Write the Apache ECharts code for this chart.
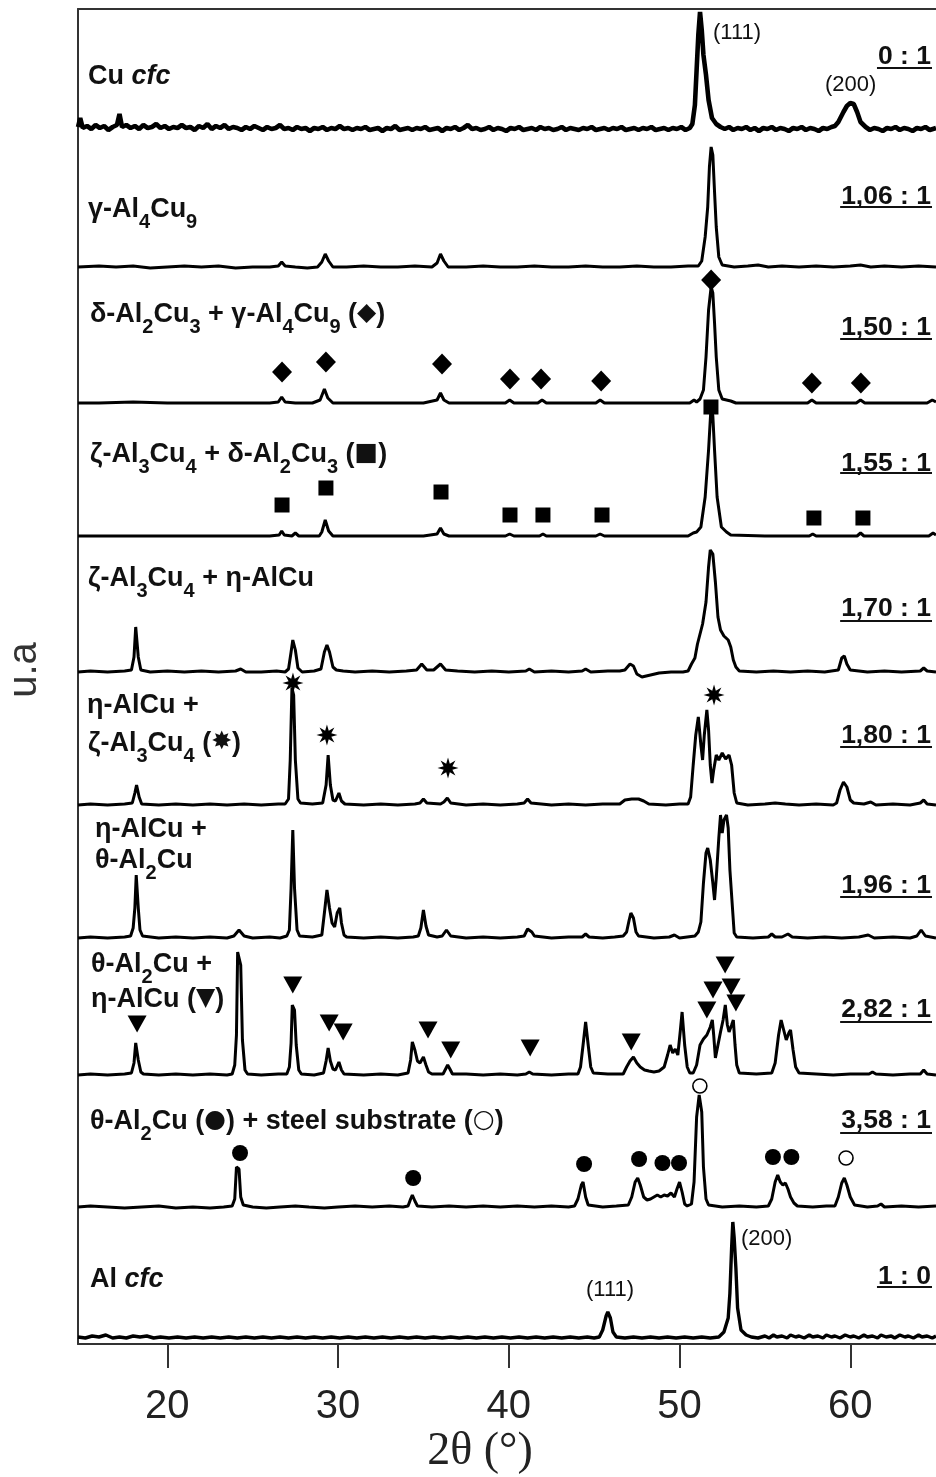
<!DOCTYPE html>
<html><head><meta charset="utf-8">
<script src="https://cdn.jsdelivr.net/npm/echarts@6/dist/echarts.min.js"></script>
<style>html,body{margin:0;padding:0;background:#fff}#c{width:936px;height:1477px}</style>
</head><body><div id="c"></div>
<script>
// ---------------- DATA ----------------
const xTicks = [20, 30, 40, 50, 60];
const xRange = [14.77, 65.02];
// vertical stacking offset of each pattern (a.u.)
const offsets = [1214, 1077, 941, 808, 672, 539, 406, 269, 137, 6];

const traceCu = [[14.77,3],[14.9,12],[15.05,2],[15.3,4],[15.55,1],[15.8,5],[16.05,2],[16.3,4],[16.55,0],[16.8,3],[17.05,5],[17.2,16],[17.35,3],[17.6,5],[17.85,2],[18.1,4],[18.35,1],[18.6,5],[18.85,2],[19.1,3],[19.35,6],[19.6,2],[19.85,4],[20.1,1],[20.35,3],[20.6,2],[20.85,5],[21.1,2],[21.35,3],[21.6,0],[21.85,4],[22.1,2],[22.35,6],[22.6,1],[22.85,4],[23.1,2],[23.35,5],[23.6,1],[23.85,3],[24.1,2],[24.35,0],[24.6,3],[24.85,1],[25.1,4],[25.35,2],[25.6,0],[25.85,3],[26.1,1],[26.35,2],[26.6,5],[26.85,1],[27.1,2],[27.35,0],[27.6,3],[27.85,1],[28.1,2],[28.35,-1],[28.6,2],[28.85,1],[29.1,3],[29.35,0],[29.6,2],[29.85,1],[30.1,4],[30.35,1],[30.6,2],[30.85,0],[31.1,2],[31.35,1],[31.6,3],[31.85,0],[32.1,1],[32.35,2],[32.6,-1],[32.85,2],[33.1,1],[33.35,4],[33.6,0],[33.85,1],[34.1,2],[34.35,0],[34.6,2],[34.85,1],[35.1,3],[35.35,0],[35.6,1],[35.85,2],[36.1,-1],[36.35,2],[36.6,1],[36.85,3],[37.1,0],[37.35,2],[37.6,5],[37.85,1],[38.1,2],[38.35,0],[38.6,1],[38.85,3],[39.1,0],[39.35,2],[39.6,1],[39.85,-1],[40.1,2],[40.35,1],[40.6,3],[40.85,0],[41.1,1],[41.35,2],[41.6,0],[41.85,3],[42.1,1],[42.35,2],[42.6,0],[42.85,1],[43.1,3],[43.35,0],[43.6,2],[43.85,1],[44.1,0],[44.35,2],[44.6,1],[44.85,3],[45.1,0],[45.35,1],[45.6,2],[45.85,0],[46.1,2],[46.35,1],[46.6,3],[46.85,0],[47.1,1],[47.35,2],[47.6,0],[47.85,2],[48.1,1],[48.35,3],[48.6,0],[48.85,1],[49.1,2],[49.35,0],[49.6,2],[49.85,1],[50.1,3],[50.35,0],[50.6,2],[50.75,6],[50.9,25],[51.0,60],[51.1,95],[51.2,118],[51.3,100],[51.4,75],[51.55,55],[51.7,30],[51.9,12],[52.15,6],[52.4,3],[52.65,1],[52.9,3],[53.15,0],[53.4,2],[53.65,1],[53.9,3],[54.15,0],[54.4,2],[54.65,-1],[54.9,2],[55.15,1],[55.4,3],[55.65,0],[55.9,2],[56.15,1],[56.4,-1],[56.65,2],[56.9,1],[57.15,3],[57.4,0],[57.65,2],[57.9,1],[58.15,-1],[58.4,2],[58.65,1],[58.9,3],[59.1,4],[59.3,8],[59.6,18],[59.8,24],[60.0,27],[60.2,26],[60.4,18],[60.6,8],[60.9,3],[61.15,0],[61.4,2],[61.65,1],[61.9,-1],[62.15,2],[62.4,1],[62.65,3],[62.9,0],[63.15,2],[63.4,1],[63.65,-1],[63.9,2],[64.15,1],[64.4,3],[64.65,0],[65.02,2]];

const traceGamma = [[14.77,0],[16,1],[17,0],[18,1],[19,-1],[20,0],[21,1],[22,0],[23,1],[24,-1],[25,0],[26,0],[26.5,1],[26.7,5],[26.9,1],[27.5,0],[28.2,-1],[28.8,0],[29.05,5],[29.25,13],[29.45,6],[29.7,0],[30.5,0],[31.5,1],[32.5,0],[33.5,0],[34.5,1],[35.5,0],[35.8,4],[36.0,13],[36.2,6],[36.45,0],[37.5,0],[38.5,1],[39.5,0],[40.5,0],[41.5,1],[42.5,0],[43.5,0],[44.5,1],[45.5,0],[46.5,0],[47.5,1],[48.5,0],[49.5,0],[50.5,1],[51.1,1],[51.3,6],[51.5,30],[51.65,60],[51.75,100],[51.85,120],[51.95,112],[52.05,75],[52.15,40],[52.3,10],[52.5,2],[53.2,0],[54.0,1],[54.6,2],[55.2,0],[56,1],[57,0],[58,1],[59,0],[60,1],[60.6,2],[61.2,0],[62,1],[63,0],[64,1],[65.02,0]];

const traceDeltaGamma = [[14.77,0],[16,0],[18,1],[20,0],[22,0],[24,0],[26.0,0],[26.5,1],[26.7,6],[26.9,1],[27.5,0],[28.5,0],[28.95,3],[29.2,14],[29.4,5],[29.7,0],[31,0],[33,0],[35,0],[35.8,3],[36.0,10],[36.2,3],[36.5,0],[38,0],[39.8,0],[40.05,3],[40.3,0],[41.7,0],[41.95,3],[42.2,0],[45.1,0],[45.35,3],[45.6,0],[48,0],[50.6,0],[50.85,3],[51.0,1],[51.2,4],[51.4,13],[51.55,46],[51.7,93],[51.85,116],[51.95,110],[52.05,80],[52.15,46],[52.3,13],[52.5,4],[53.0,2],[53.3,0],[55,0],[57.5,0],[57.75,3],[58.0,0],[60.35,0],[60.6,3],[60.85,0],[62,0],[64.5,0],[64.8,3],[65.02,1]];

const traceZetaDelta = [[14.77,0],[17,0],[20,0],[23,0],[26.0,0],[26.55,1],[26.7,5],[26.85,1],[27.3,0],[27.5,3],[27.7,0],[28.9,0],[29.05,4],[29.25,16],[29.45,5],[29.7,0],[32,0],[35,0],[35.8,2],[36.0,8],[36.2,2],[36.5,0],[39.8,0],[40.05,2],[40.3,0],[41.8,0],[42.0,2],[42.2,0],[45.1,0],[45.35,2],[45.6,0],[48,0],[50.5,0],[50.8,3],[51.0,4],[51.25,9],[51.5,39],[51.7,86],[51.85,131],[51.95,120],[52.05,86],[52.2,39],[52.45,9],[52.75,4],[53.0,1],[55,0],[57.6,0],[57.8,2],[58.0,0],[60.4,0],[60.6,3],[60.8,0],[63,0],[64.6,0],[64.85,3],[65.02,1]];

const traceZetaEta = [[14.77,0],[15.5,1],[16.5,0],[17.5,1],[17.9,2],[18.05,15],[18.15,45],[18.3,15],[18.45,2],[19.0,0],[20.0,1],[21,0],[22,1],[23,0],[24,1],[24.3,3],[24.6,0],[25.5,0],[26.4,1],[26.9,0],[27.1,3],[27.25,20],[27.35,32],[27.5,22],[27.65,4],[27.9,0],[28.6,1],[29.0,3],[29.2,20],[29.35,27],[29.5,20],[29.7,5],[29.9,2],[30.3,1],[31,0],[32,1],[33,0],[34,1],[34.6,2],[34.9,8],[35.2,2],[35.6,2],[36.0,8],[36.3,2],[37,1],[38,0],[39,1],[40,0],[41.0,1],[41.2,3],[41.5,0],[42.5,1],[43.5,0],[44.3,1],[44.5,3],[44.8,0],[45.8,1],[46.5,1],[46.8,2],[47.1,8],[47.3,6],[47.5,-2],[47.8,-5],[48.3,-3],[48.8,-1],[49.5,0],[50.2,0],[50.5,1],[50.7,8],[50.9,14],[51.05,28],[51.2,38],[51.35,48],[51.55,70],[51.7,105],[51.8,122],[51.95,118],[52.1,90],[52.25,55],[52.4,42],[52.6,36],[52.85,32],[53.0,25],[53.15,12],[53.3,5],[53.5,1],[54.5,0],[55.5,1],[56.5,0],[57.5,1],[58.5,0],[59.3,2],[59.5,14],[59.65,16],[59.8,8],[60.0,2],[61,0],[62,1],[63,0],[64.1,1],[64.3,4],[64.5,1],[65.02,0]];

const traceEtaZeta = [[14.77,0],[15.5,1],[16.5,0],[17.5,1],[17.95,2],[18.1,12],[18.2,20],[18.35,8],[18.5,1],[19.5,0],[20.5,1],[21.5,0],[22.5,1],[23.5,0],[24.5,1],[25.5,0],[26.5,1],[26.9,1],[27.1,6],[27.2,45],[27.3,117],[27.4,110],[27.5,45],[27.65,6],[27.8,2],[28.5,1],[29.1,2],[29.3,20],[29.42,50],[29.55,20],[29.7,5],[29.85,4],[30.05,12],[30.2,4],[30.4,1],[31.5,0],[32.5,1],[33.5,0],[34.5,1],[34.8,2],[35.0,6],[35.2,2],[36.0,1],[36.2,3],[36.4,7],[36.6,2],[37.5,0],[38.5,1],[39.5,0],[40.5,1],[40.9,2],[41.1,6],[41.3,2],[42.5,0],[43.5,1],[44.5,0],[45.5,1],[46.5,1],[46.8,5],[47.2,6],[47.6,6],[47.9,4],[48.2,1],[49.2,0],[50.0,1],[50.5,1],[50.65,8],[50.8,40],[50.95,70],[51.1,88],[51.25,60],[51.35,45],[51.45,70],[51.6,95],[51.7,75],[51.8,40],[51.9,22],[52.0,35],[52.15,50],[52.3,45],[52.5,52],[52.7,46],[52.9,50],[53.05,40],[53.2,12],[53.35,2],[54.0,0],[55.0,1],[55.6,2],[56.2,1],[57.0,0],[58.0,1],[59.0,0],[59.2,2],[59.4,15],[59.6,23],[59.8,18],[60.0,5],[60.2,2],[60.8,1],[61.2,3],[61.5,0],[62.5,1],[63.5,0],[64.1,2],[64.3,5],[64.5,1],[65.02,0]];

const traceEtaTheta = [[14.77,0],[15.5,1],[16.5,0],[17.5,1],[17.85,2],[18.0,10],[18.1,30],[18.18,63],[18.3,30],[18.4,8],[18.55,2],[19.5,0],[20.5,1],[21.5,0],[22.5,1],[23.5,0],[23.9,2],[24.2,8],[24.5,2],[25.0,0],[26,1],[26.6,0],[27.0,2],[27.15,8],[27.25,50],[27.35,108],[27.45,50],[27.6,8],[27.75,2],[28.5,1],[29.05,3],[29.2,25],[29.35,48],[29.5,30],[29.65,15],[29.8,11],[29.95,25],[30.1,30],[30.2,15],[30.35,3],[30.5,1],[31.5,0],[32.5,1],[33.5,0],[34.4,1],[34.7,2],[34.85,10],[35.0,28],[35.15,12],[35.3,3],[35.8,1],[36.1,2],[36.35,8],[36.6,2],[37.5,0],[38.5,1],[39.5,0],[40.5,1],[40.9,2],[41.1,9],[41.2,11],[41.35,6],[41.5,2],[42.5,0],[43.5,1],[44.3,1],[44.5,4],[44.7,1],[45.5,0],[46.2,1],[46.7,2],[46.9,6],[47.05,18],[47.15,25],[47.3,20],[47.45,6],[47.6,2],[48.5,0],[49.4,1],[49.7,3],[50.0,0],[50.9,2],[51.1,6],[51.25,16],[51.4,55],[51.55,85],[51.65,90],[51.8,78],[51.95,55],[52.05,38],[52.15,60],[52.3,100],[52.4,123],[52.5,105],[52.6,118],[52.75,123],[52.85,110],[52.95,68],[53.1,30],[53.2,5],[53.35,1],[54.3,0],[55.2,1],[55.4,4],[55.6,1],[56.0,1],[56.35,4],[56.6,1],[57.5,0],[58.5,1],[59.5,0],[60.5,1],[61.05,3],[61.4,0],[62.5,1],[63.5,0],[63.9,2],[64.15,8],[64.4,2],[65.02,0]];

const traceThetaEta = [[14.77,0],[15.5,1],[16.5,0],[17.5,1],[17.9,2],[18.05,12],[18.15,32],[18.3,15],[18.45,3],[18.6,1],[19.5,0],[20.5,1],[21.5,0],[22.5,1],[23.5,0],[23.8,1],[23.95,10],[24.05,40],[24.12,123],[24.3,110],[24.4,35],[24.55,5],[24.7,1],[25.5,0],[26.5,1],[27.0,1],[27.15,8],[27.25,32],[27.32,70],[27.45,65],[27.55,30],[27.7,5],[27.85,1],[28.6,0],[29.15,2],[29.3,14],[29.42,27],[29.55,14],[29.7,6],[29.85,5],[30.05,13],[30.2,5],[30.35,1],[31.5,0],[32.5,1],[33.5,0],[34.1,2],[34.25,15],[34.35,33],[34.5,25],[34.65,14],[34.8,12],[35.0,18],[35.15,10],[35.3,3],[35.5,1],[36.15,1],[36.3,6],[36.42,10],[36.55,6],[36.7,1],[37.5,1],[38.5,0],[39.5,1],[40.5,0],[41.0,1],[41.2,3],[41.4,1],[42.5,0],[43.5,1],[44.05,1],[44.2,8],[44.35,30],[44.5,53],[44.65,30],[44.8,8],[44.95,2],[45.8,1],[46.5,1],[46.7,1],[46.9,8],[47.1,14],[47.3,18],[47.5,12],[47.7,8],[47.95,5],[48.2,4],[48.5,3],[48.8,4],[49.1,8],[49.3,20],[49.45,30],[49.6,22],[49.75,26],[49.9,20],[50.05,45],[50.15,63],[50.3,30],[50.45,8],[50.6,2],[50.8,2],[51.0,10],[51.2,30],[51.4,36],[51.6,40],[51.8,48],[51.92,55],[52.0,40],[52.1,17],[52.25,30],[52.4,43],[52.55,55],[52.68,70],[52.8,50],[52.9,43],[53.05,50],[53.15,55],[53.25,30],[53.35,10],[53.5,2],[54.5,1],[55.4,2],[55.6,12],[55.8,40],[55.95,55],[56.1,45],[56.25,35],[56.4,42],[56.5,45],[56.65,25],[56.8,8],[57.0,2],[58,1],[59,0],[60,1],[61.1,1],[61.3,3],[61.5,1],[62.5,0],[63.5,1],[64.1,1],[64.3,5],[64.5,1],[65.02,0]];

const traceThetaSteel = [[14.77,0],[15.5,1],[16.5,0],[17.5,-1],[18.5,0],[19.5,1],[20.5,-1],[21.5,0],[22.5,-1],[23.3,0],[23.8,1],[23.95,8],[24.05,40],[24.2,38],[24.3,10],[24.45,2],[25.0,0],[25.8,-1],[26.6,0],[27.5,1],[28.3,0],[29.2,-1],[30,0],[31,1],[32,0],[33,1],[33.8,0],[34.1,1],[34.25,8],[34.35,12],[34.5,6],[34.65,1],[35.5,0],[36.5,1],[37.5,0],[38.5,1],[39.5,0],[40.5,1],[41.5,0],[42.5,1],[43.5,0],[43.85,1],[44.05,8],[44.25,22],[44.35,25],[44.5,10],[44.65,2],[45.5,0],[46.3,1],[47.0,2],[47.2,10],[47.4,25],[47.55,29],[47.7,22],[47.9,10],[48.1,7],[48.3,8],[48.5,10],[48.7,12],[48.9,10],[49.1,12],[49.3,11],[49.5,14],[49.7,10],[49.85,18],[50.0,25],[50.15,15],[50.3,3],[50.45,1],[50.7,3],[50.85,25],[51.0,90],[51.15,112],[51.3,95],[51.4,40],[51.55,8],[51.7,2],[52.5,0],[53.5,1],[54.5,0],[55.2,1],[55.4,8],[55.6,25],[55.75,32],[55.9,25],[56.05,22],[56.2,24],[56.35,18],[56.5,10],[56.7,4],[56.9,1],[57.8,0],[58.6,1],[59.1,1],[59.3,10],[59.5,24],[59.65,29],[59.8,22],[60.0,10],[60.25,2],[61.0,0],[61.6,1],[61.8,3],[62.0,0],[63,1],[64,0],[65.02,1]];

const traceAl = [[14.77,1],[15.2,0],[15.6,2],[16.0,1],[16.4,3],[16.8,0],[17.2,1],[17.6,0],[18.0,2],[18.4,1],[18.8,2],[19.2,0],[19.6,1],[20.1,0],[20.6,1],[21.1,0],[21.6,1],[22.1,0],[22.6,1],[23.1,0],[23.6,1],[24.1,0],[24.6,1],[25.1,0],[25.6,1],[26.1,0],[26.6,1],[27.1,0],[27.6,1],[28.1,0],[28.6,1],[29.1,0],[29.6,1],[30.1,0],[30.6,1],[31.1,0],[31.6,1],[32.1,0],[32.6,1],[33.1,0],[33.6,1],[34.1,0],[34.6,1],[35.1,0],[35.6,1],[36.1,0],[36.6,1],[37.1,0],[37.6,1],[38.1,0],[38.6,1],[39.1,0],[39.6,1],[40.1,0],[40.6,1],[41.1,0],[41.6,1],[42.1,0],[42.6,1],[43.1,0],[43.6,1],[44.1,0],[44.6,1],[45.0,0],[45.3,1],[45.5,8],[45.7,22],[45.8,26],[45.95,20],[46.1,6],[46.3,1],[46.8,0],[47.3,1],[47.8,0],[48.3,1],[48.8,0],[49.3,1],[49.8,0],[50.3,1],[50.8,0],[51.3,1],[51.8,0],[52.3,1],[52.6,6],[52.85,20],[52.95,45],[53.05,90],[53.12,116],[53.2,100],[53.3,70],[53.4,30],[53.6,8],[53.9,3],[54.2,1],[54.6,0],[55.0,2],[55.25,0],[55.5,3],[55.7,1],[56.0,2],[56.3,0],[56.5,3],[56.8,1],[57.0,2],[57.3,0],[57.6,3],[57.8,1],[58.1,2],[58.4,0],[58.6,3],[58.9,1],[59.1,2],[59.4,0],[59.7,3],[60.0,1],[60.2,2],[60.5,0],[60.8,3],[61.0,1],[61.3,2],[61.6,0],[61.8,3],[62.1,1],[62.4,2],[62.6,0],[62.9,3],[63.2,1],[63.4,2],[63.7,0],[64.0,3],[64.2,1],[64.5,2],[64.8,0],[65.02,2]];

const traces = [traceCu, traceGamma, traceDeltaGamma, traceZetaDelta, traceZetaEta,
                traceEtaZeta, traceEtaTheta, traceThetaEta, traceThetaSteel, traceAl];

// phase markers: [2θ, height above the pattern's baseline]
const diamondMarks = [[26.72,31],[29.29,41],[36.09,39],[40.07,24],[41.89,24],[45.41,22],[51.85,123],[57.75,20],[60.62,20]];
const squareMarks = [[26.72,31],[29.29,48],[36.03,44],[40.07,21],[42.0,21],[45.46,21],[51.84,129],[57.87,18],[60.74,18]];
const starMarks = [[27.36,122],[29.35,70],[36.44,37],[52.02,110]];
const triangleMarks = [[18.23,51],[27.35,90],[29.48,52],[30.3,43],[35.27,45],[36.6,25],[41.25,27],[47.17,33],[51.6,65],[51.96,85],[52.67,110],[53.02,88],[53.3,72]];
const dotMarks = [[24.26,54],[34.4,29],[44.41,43],[47.63,48],[49.0,44],[49.97,44],[55.47,50],[56.55,50]];
const openCircleMarks = [[51.19,121],[59.75,49]];

const ratioLabels = ['0 : 1','1,06 : 1','1,50 : 1','1,55 : 1','1,70 : 1','1,80 : 1','1,96 : 1','2,82 : 1','3,58 : 1','1 : 0'];
const phaseLabels = [
  ['{b|Cu }{bi|cfc}'],
  ['{b|γ-Al}{s|4}{b|Cu}{s|9}'],
  ['{b|δ-Al}{s|2}{b|Cu}{s|3}{b| + γ-Al}{s|4}{b|Cu}{s|9}{b| (}{sym|◆}{b|)}'],
  ['{b|ζ-Al}{s|3}{b|Cu}{s|4}{b| + δ-Al}{s|2}{b|Cu}{s|3}{b| (}{sym|■}{b|)}'],
  ['{b|ζ-Al}{s|3}{b|Cu}{s|4}{b| + η-AlCu}'],
  ['{b|η-AlCu +}', '{b|ζ-Al}{s|3}{b|Cu}{s|4}{b| (}{sym|✸}{b|)}'],
  ['{b|η-AlCu +}', '{b|θ-Al}{s|2}{b|Cu}'],
  ['{b|θ-Al}{s|2}{b|Cu +}', '{b|η-AlCu (}{sym|▼}{b|)}'],
  ['{b|θ-Al}{s|2}{b|Cu (}{sym|●}{b|) + steel substrate (}{sym|○}{b|)}'],
  ['{b|Al }{bi|cfc}']
];
const peakNotes = ['(111)', '(200)', '(111)', '(200)'];

// ---------------- LAYOUT / STYLE ----------------
const FF = "'Liberation Sans', Arial, sans-serif";
const W = 936, H = 1477;
const grid = {left: 78, right: 0, top: 9, bottom: 133};
const yMax = 1335;
const labelPos = [[[88,74]],[[88,207]],[[90,312]],[[90,452]],[[88,576]],[[87,703],[88,741]],[[95,827],[95,858]],[[91,962],[91,997]],[[90,1119]],[[90,1277]]];
const ratioY = [55,195,326,462,607,734,884,1008,1119,1275];
const ratioUnderY = [68,207,339,473,621,747,897,1022,1133,1287];
const notePos = [[713,33,'left'],[825,85,'left'],[610,1290,'center'],[741,1239,'left']];

const RICH = {
  b: {fontFamily: FF, fontWeight: 'bold', fontSize: 27, lineHeight: 30, verticalAlign: 'top', fill: '#111'},
  bi: {fontFamily: FF, fontWeight: 'bold', fontStyle: 'italic', fontSize: 27, lineHeight: 30, verticalAlign: 'top', fill: '#111'},
  s: {fontFamily: FF, fontWeight: 'bold', fontSize: 20, lineHeight: 20, padding: [16,0,0,0], verticalAlign: 'top', fill: '#111'},
  sym: {fontFamily: "'DejaVu Sans', sans-serif", fontSize: 25, lineHeight: 30, verticalAlign: 'top', fill: '#111'}
};

const chart = echarts.init(document.getElementById('c'), null, {renderer: 'canvas', width: W, height: H});

const lineSeries = traces.map((t, i) => ({
  type: 'line', silent: true, symbol: 'none', showSymbol: false, z: 2,
  data: t.map(p => [p[0], offsets[i] + p[1]]),
  lineStyle: {color: '#000', width: i === 0 ? 4.6 : (i === 9 ? 3.4 : 3), opacity: 1}
}));

function marks(arr, idx, symbol, size, extra) {
  return Object.assign({
    type: 'scatter', silent: true, z: 4, symbol, symbolSize: size,
    data: arr.map(p => [p[0], offsets[idx] + p[1]]),
    itemStyle: {color: '#000', opacity: 1}
  }, extra || {});
}
const starPath = 'path://M10 0L11.72 5.84L17.07 2.93L14.16 8.28L20 10L14.16 11.72L17.07 17.07L11.72 14.16L10 20L8.28 14.16L2.93 17.07L5.84 11.72L0 10L5.84 8.28L2.93 2.93L8.28 5.84Z';

const markerSeries = [
  marks(diamondMarks, 2, 'diamond', [20, 21]),
  marks(squareMarks, 3, 'rect', [15, 15]),
  marks(starMarks, 5, starPath, [21, 21]),
  marks(triangleMarks, 7, 'triangle', [19, 17], {symbolRotate: 180}),
  marks(dotMarks, 8, 'circle', 16),
  marks(openCircleMarks, 8, 'circle', 14, {itemStyle: {color: '#fff', borderColor: '#000', borderWidth: 1.6, opacity: 1}})
];

const measureCtx = document.createElement('canvas').getContext('2d');
const ratioFont = "bold 26.5px 'Liberation Sans'";
measureCtx.font = ratioFont;

const graphics = [];
phaseLabels.forEach((lines, i) => {
  lines.forEach((txt, j) => {
    const [x, yc] = labelPos[i][j];
    graphics.push({type: 'text', x: x, y: yc - 11, silent: true, z: 10,
      style: {text: txt, rich: RICH, align: 'left', verticalAlign: 'top', textAlign: 'left', textVerticalAlign: 'top'}});
  });
});
ratioLabels.forEach((txt, i) => {
  const w = measureCtx.measureText(txt).width;
  const xr = 931;
  graphics.push({type: 'text', x: xr, y: ratioY[i] + 2, silent: true, z: 10,
    style: {text: txt, font: ratioFont, fill: '#111', align: 'right', verticalAlign: 'middle', textAlign: 'right', textVerticalAlign: 'middle'}});
  graphics.push({type: 'line', silent: true, z: 10,
    shape: {x1: xr - w - 1, y1: ratioUnderY[i], x2: xr + 1, y2: ratioUnderY[i]},
    style: {stroke: '#111', lineWidth: 2}});
});
peakNotes.forEach((n, i) => {
  const [x, y, al] = notePos[i];
  graphics.push({type: 'text', x, y, silent: true, z: 10,
    style: {text: n, font: "22px 'Liberation Sans'", fill: '#111', align: al, verticalAlign: 'middle', textAlign: al, textVerticalAlign: 'middle'}});
});
graphics.push({type: 'text', x: 25, y: 670, rotation: Math.PI / 2, silent: true,
  style: {text: 'u.a', font: "40px 'Liberation Sans'", fill: '#333', align: 'center', verticalAlign: 'middle', textAlign: 'center', textVerticalAlign: 'middle'}});
graphics.push({type: 'text', x: 480, y: 1452, silent: true,
  style: {text: '2θ (°)', font: "46px 'Liberation Serif'", fill: '#222', align: 'center', verticalAlign: 'middle', textAlign: 'center', textVerticalAlign: 'middle'}});

const option = {
  animation: false,
  backgroundColor: '#fff',
  grid: grid,
  xAxis: [{
    type: 'value', min: xRange[0], max: xRange[1], position: 'bottom',
    axisLine: {show: true, onZero: false, lineStyle: {color: '#333', width: 2}},
    axisTick: {show: true, inside: false, length: 24, customValues: xTicks, lineStyle: {color: '#333', width: 2}},
    axisLabel: {show: true, customValues: xTicks, margin: 43, fontSize: 40, fontFamily: FF, color: '#222'},
    splitLine: {show: false}
  }, {
    type: 'value', min: xRange[0], max: xRange[1], position: 'top',
    axisLine: {show: true, onZero: false, lineStyle: {color: '#333', width: 2}},
    axisTick: {show: false}, axisLabel: {show: false}, splitLine: {show: false}
  }],
  yAxis: [{
    type: 'value', min: 0, max: yMax,
    axisLine: {show: true, onZero: false, lineStyle: {color: '#333', width: 2}},
    axisTick: {show: false}, axisLabel: {show: false}, splitLine: {show: false}
  }],
  series: lineSeries.concat(markerSeries),
  graphic: graphics
};
chart.setOption(option);
</script>
</body></html>
